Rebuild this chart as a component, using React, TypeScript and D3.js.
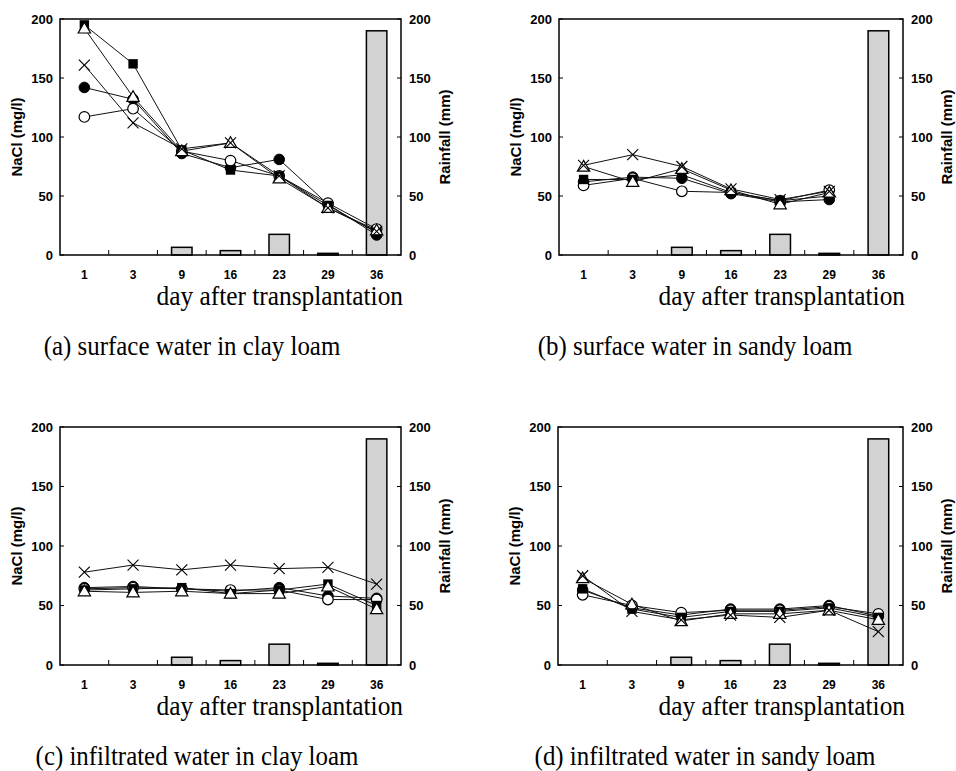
import React from "react";
import * as d3 from "d3";

const days = ["1", "3", "9", "16", "23", "29", "36"];
const rainfall = [0, 0, 6.5, 3.7, 17.5, 1.4, 190];
const yTicks = [0, 50, 100, 150, 200];

// (a) surface water in clay loam
const aFilledCircle = [142, 132, 86, 74, 81, 43, 17];
const aOpenCircle = [117, 124, 88, 80, 67, 44, 22];
const aFilledSquare = [195, 162, 89, 72, 67, 42, 19];
const aOpenTriangle = [192, 134, 88, 95, 65, 40, 21];
const aCross = [161, 112, 90, 95, 67, 40, 20];

// (b) surface water in sandy loam
const bFilledCircle = [62, 66, 65, 52, 45, 47, null];
const bOpenCircle = [59, 65, 54, 53, 46, 55, null];
const bFilledSquare = [64, 64, 68, 53, 46, 50, null];
const bOpenTriangle = [75, 62, 73, 55, 43, 53, null];
const bCross = [76, 85, 75, 56, 47, 54, null];

// (c) infiltrated water in clay loam
const cFilledCircle = [65, 66, 64, 62, 65, 58, 56];
const cOpenCircle = [64, 65, 64, 63, 63, 55, 55];
const cFilledSquare = [63, 64, 65, 60, 63, 68, 50];
const cOpenTriangle = [62, 61, 62, 60, 60, 66, 47];
const cCross = [78, 84, 80, 84, 81, 82, 68];

// (d) infiltrated water in sandy loam
const dFilledCircle = [63, 48, 42, 47, 47, 50, 41];
const dOpenCircle = [59, 50, 44, 46, 46, 49, 43];
const dFilledSquare = [64, 47, 40, 45, 45, 48, 40];
const dOpenTriangle = [73, 51, 37, 43, 43, 46, 38];
const dCross = [75, 45, 38, 42, 40, 46, 28];

const captions = [
  "(a) surface water in clay loam",
  "(b) surface water in sandy loam",
  "(c) infiltrated water in clay loam",
  "(d) infiltrated water in sandy loam",
];

type Series = { kind: string; values: (number | null)[] };

const panels = [
  {
    box: { left: 60, right: 401, top: 19, bottom: 255 }, capX: 192, caption: captions[0],
    series: [
      { kind: "filledCircle", values: aFilledCircle },
      { kind: "openCircle", values: aOpenCircle },
      { kind: "filledSquare", values: aFilledSquare },
      { kind: "openTriangle", values: aOpenTriangle },
      { kind: "cross", values: aCross },
    ] as Series[],
  },
  {
    box: { left: 559, right: 903, top: 19, bottom: 255 }, capX: 695, caption: captions[1],
    series: [
      { kind: "filledCircle", values: bFilledCircle },
      { kind: "openCircle", values: bOpenCircle },
      { kind: "filledSquare", values: bFilledSquare },
      { kind: "openTriangle", values: bOpenTriangle },
      { kind: "cross", values: bCross },
    ] as Series[],
  },
  {
    box: { left: 60, right: 401, top: 427, bottom: 665 }, capX: 197, caption: captions[2],
    series: [
      { kind: "filledCircle", values: cFilledCircle },
      { kind: "openCircle", values: cOpenCircle },
      { kind: "filledSquare", values: cFilledSquare },
      { kind: "openTriangle", values: cOpenTriangle },
      { kind: "cross", values: cCross },
    ] as Series[],
  },
  {
    box: { left: 558, right: 903, top: 427, bottom: 665 }, capX: 705, caption: captions[3],
    series: [
      { kind: "filledCircle", values: dFilledCircle },
      { kind: "openCircle", values: dOpenCircle },
      { kind: "filledSquare", values: dFilledSquare },
      { kind: "openTriangle", values: dOpenTriangle },
      { kind: "cross", values: dCross },
    ] as Series[],
  },
];

const sans = "'Liberation Sans', Arial, sans-serif";
const serif = "'Liberation Serif', 'Times New Roman', serif";

function Marker({ kind, x, y }: { kind: string; x: number; y: number }) {
  const s = 5.3;
  if (kind === "filledCircle") return <circle cx={x} cy={y} r={s} fill="#000" stroke="#000" strokeWidth={1} />;
  if (kind === "openCircle") return <circle cx={x} cy={y} r={s} fill="#fff" stroke="#000" strokeWidth={1.2} />;
  if (kind === "filledSquare") return <rect x={x - 4.7} y={y - 4.7} width={9.4} height={9.4} fill="#000" />;
  if (kind === "openTriangle") {
    const sym = d3.symbol(d3.symbolTriangle, 66)();
    return <path d={sym || ""} transform={`translate(${x},${y + 1})`} fill="#fff" stroke="#000" strokeWidth={1.2} />;
  }
  return (
    <g stroke="#000" strokeWidth={1.1}>
      <line x1={x - 5.5} y1={y - 5.5} x2={x + 5.5} y2={y + 5.5} />
      <line x1={x - 5.5} y1={y + 5.5} x2={x + 5.5} y2={y - 5.5} />
    </g>
  );
}

function Panel({ p }: { p: (typeof panels)[number] }) {
  const { left, right, top, bottom } = p.box;
  const x = d3.scaleBand<string>().domain(days).range([left, right]).paddingInner(0).paddingOuter(0);
  const y = d3.scaleLinear().domain([0, 200]).range([bottom, top]);
  const yR = d3.scaleLinear().domain([0, 200]).range([bottom, top]);
  const bw = x.bandwidth();
  const cx = (d: string) => (x(d) as number) + bw / 2;
  const barW = bw * 0.42;
  const line = d3
    .line<number | null>()
    .defined((v) => v !== null)
    .x((_, i) => cx(days[i]))
    .y((v) => y(v as number));
  const midY = (top + bottom) / 2;
  return (
    <g>
      {rainfall.map((r, i) =>
        r > 0 ? (
          <rect key={"b" + i} x={cx(days[i]) - barW / 2} y={yR(r)} width={barW} height={bottom - yR(r)}
            fill="#d2d2d2" stroke="#000" strokeWidth={1.5} />
        ) : null
      )}
      {p.series.map((s, si) => (
        <path key={"l" + si} d={line(s.values) || ""} fill="none" stroke="#111" strokeWidth={1} />
      ))}
      {p.series.map((s, si) =>
        s.values.map((v, i) => (v === null ? null : <Marker key={"m" + si + "_" + i} kind={s.kind} x={cx(days[i])} y={y(v)} />))
      )}
      <rect x={left} y={top} width={right - left} height={bottom - top} fill="none" stroke="#000" strokeWidth={1.5} />
      {yTicks.map((t) => (
        <g key={"t" + t}>
          <line x1={left} x2={left + 4} y1={y(t)} y2={y(t)} stroke="#000" strokeWidth={1} />
          <line x1={right - 4} x2={right} y1={yR(t)} y2={yR(t)} stroke="#000" strokeWidth={1} />
          <text x={left - 7} y={y(t)} dy="0.35em" textAnchor="end" fontFamily={sans} fontWeight="bold" fontSize={13}>{t}</text>
          <text x={right + 8} y={yR(t)} dy="0.35em" textAnchor="start" fontFamily={sans} fontWeight="bold" fontSize={13}>{t}</text>
        </g>
      ))}
      {days.slice(1).map((d) => (
        <line key={"xt" + d} x1={x(d)} x2={x(d)} y1={bottom} y2={bottom - 5} stroke="#000" strokeWidth={1} />
      ))}
      {days.map((d) => (
        <text key={"xl" + d} x={cx(d)} y={bottom + 24} textAnchor="middle" fontFamily={sans} fontWeight="bold" fontSize={12}>{d}</text>
      ))}
      <text transform={`translate(${left - 43},${midY}) rotate(-90)`} textAnchor="middle" dy="0.35em"
        fontFamily={sans} fontWeight="bold" fontSize={15}>NaCl (mg/l)</text>
      <text transform={`translate(${right + 44},${midY}) rotate(-90)`} textAnchor="middle" dy="0.35em"
        fontFamily={sans} fontWeight="bold" fontSize={15}>Rainfall (mm)</text>
      <g transform={`translate(${right + 2},${bottom + 50}) scale(0.94,1)`}>
        <text x={0} y={0} textAnchor="end" fontFamily={serif} fontSize={27}>day after transplantation</text>
      </g>
      <g transform={`translate(${p.capX},${bottom + 100}) scale(0.94,1)`}>
        <text x={0} y={0} textAnchor="middle" fontFamily={serif} fontSize={26.5}>{p.caption}</text>
      </g>
    </g>
  );
}

export default function App() {
  return (
    <svg width={956} height={771} style={{ position: "absolute", left: 0, top: 0, background: "#fff" }}>
      <rect width={956} height={771} fill="#fff" />
      {panels.map((p, i) => (
        <Panel key={i} p={p} />
      ))}
    </svg>
  );
}
